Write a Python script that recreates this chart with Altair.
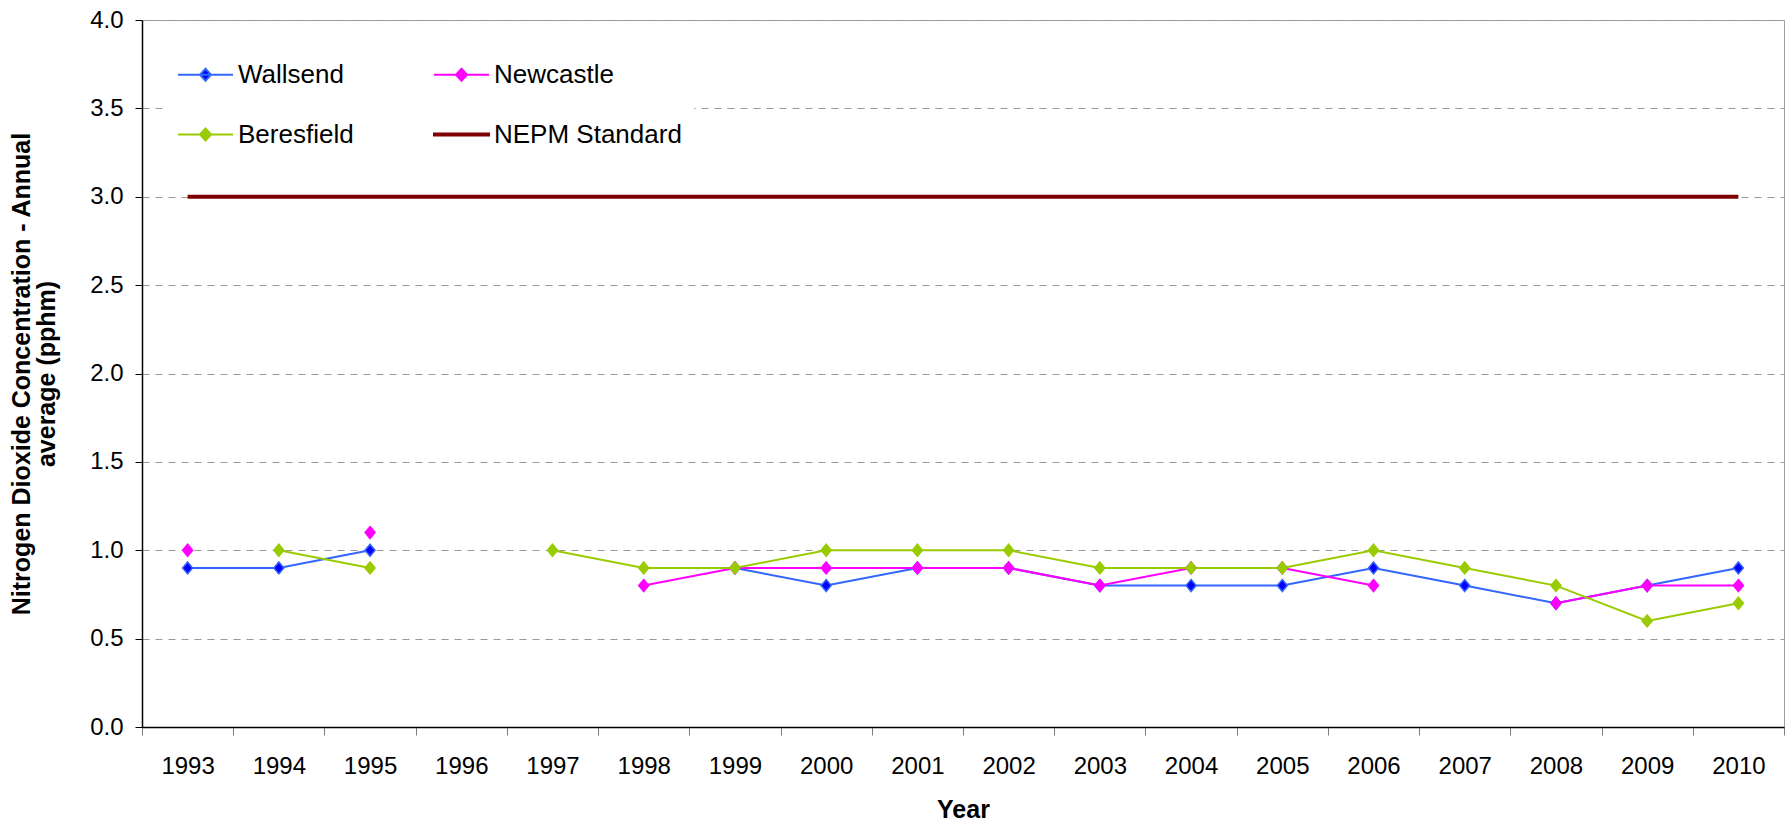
import altair as alt
import pandas as pd

# Annual average NO2 concentrations (pphm) at the three Lower Hunter stations
years = ["1993", "1994", "1995", "1996", "1997", "1998", "1999", "2000", "2001",
         "2002", "2003", "2004", "2005", "2006", "2007", "2008", "2009", "2010"]
wallsend = [0.9, 0.9, 1.0, None, None, None, 0.9, 0.8, 0.9,
            0.9, 0.8, 0.8, 0.8, 0.9, 0.8, 0.7, 0.8, 0.9]
newcastle = [1.0, None, 1.1, None, None, 0.8, 0.9, 0.9, 0.9,
             0.9, 0.8, 0.9, 0.9, 0.8, None, 0.7, 0.8, 0.8]
beresfield = [None, 1.0, 0.9, None, 1.0, 0.9, 0.9, 1.0, 1.0,
              1.0, 0.9, 0.9, 0.9, 1.0, 0.9, 0.8, 0.6, 0.7]
nepm_standard = [3.0, 3.0, 3.0, 3.0, 3.0, 3.0, 3.0, 3.0, 3.0,
                 3.0, 3.0, 3.0, 3.0, 3.0, 3.0, 3.0, 3.0, 3.0]

series_names = ["Wallsend", "Newcastle", "Beresfield", "NEPM Standard"]
line_colors = ["#3366FF", "#FF00FF", "#99CC00", "#800000"]
marker_fills = ["#0000FF", "#FF00FF", "#99CC00", "#800000"]

stations = pd.concat(
    [pd.DataFrame({"year": years, "value": vals, "series": name})
     for name, vals in zip(series_names[:3], [wallsend, newcastle, beresfield])],
    ignore_index=True,
)
standard = pd.DataFrame({"year": years, "value": nepm_standard, "series": series_names[3]})

FONT = "Liberation Sans"
W, H = 1642, 707

x_enc = alt.X(
    "year:N",
    scale=alt.Scale(domain=years, paddingInner=0, paddingOuter=0),
    axis=alt.Axis(
        title="Year", titleFont=FONT, titleFontSize=25, titleFontWeight="bold",
        titleColor="black", titleBaseline="alphabetic", titleY=90,
        labelAngle=0, labelFont=FONT, labelFontSize=24, labelColor="black",
        labelBaseline="alphabetic", labelPadding=38,
        tickBand="extent", tickSize=8, tickColor="#808080", tickWidth=1,
        domainColor="black", domainWidth=1.5, grid=False,
    ),
)
y_enc = alt.Y(
    "value:Q",
    scale=alt.Scale(domain=[0, 4], nice=False),
    axis=alt.Axis(
        title=["Nitrogen Dioxide Concentration - Annual", "average (pphm)"],
        titleFont=FONT, titleFontSize=25, titleFontWeight="bold", titleColor="black",
        titleAngle=-90, titleAlign="center", titleBaseline="middle", titleLineHeight=25,
        titleX=-121, titleY=H / 2,
        values=[0, 0.5, 1, 1.5, 2, 2.5, 3, 3.5, 4], format=".1f",
        labelFont=FONT, labelFontSize=24, labelColor="black", labelPadding=12,
        tickSize=7, tickColor="black", domainColor="black", domainWidth=1.5,
        grid=True, gridColor="#999999", gridDash=[7, 6], gridWidth=1,
    ),
)

# legend glyphs: line with a diamond marker, and a thick bar for the standard
diamond_line = "M-1,0L1,0M0,-0.22L0.2,0L0,0.22L-0.2,0Z"
thick_line = "M-1,-0.035L1,-0.035L1,0.035L-1,0.035Z"


def stroke_scale():
    return alt.Scale(domain=series_names, range=line_colors)


def fill_scale():
    return alt.Scale(domain=series_names, range=marker_fills)


legend = alt.Legend(
    title=None, orient="none", legendX=23, legendY=14, direction="horizontal",
    columns=2, columnPadding=76, rowPadding=18, padding=12, fillColor="white",
    labelFont=FONT, labelFontSize=26, labelColor="black", labelOffset=4,
    labelLimit=400, symbolSize=3025, symbolOpacity=1, symbolStrokeWidth=2,
)

standard_line = alt.Chart(standard).mark_line(strokeWidth=4).encode(
    x=x_enc, y=y_enc, stroke=alt.Stroke("series:N", scale=stroke_scale(), legend=None)
)

station_lines = alt.Chart(stations).mark_line(
    strokeWidth=2, invalid="break-paths-filter-domains"
).encode(x=x_enc, y=y_enc, stroke=alt.Stroke("series:N", scale=stroke_scale(), legend=None))

station_points = alt.Chart(stations).transform_filter(
    "isValid(datum.value)"
).mark_point(
    shape="M0,-1.2L1,0L0,1.2L-1,0Z", size=100, strokeWidth=1.5, opacity=1, fillOpacity=1
).encode(
    x=x_enc,
    y=y_enc,
    fill=alt.Fill("series:N", scale=fill_scale(), legend=None),
    stroke=alt.Stroke("series:N", scale=stroke_scale(), legend=None),
)

# key layer: draws no marks, only carries the legend
key = alt.Chart(standard).transform_filter("false").mark_point(
    size=3025, opacity=1, fillOpacity=1, strokeWidth=2
).encode(
    x=x_enc,
    y=y_enc,
    stroke=alt.Stroke("series:N", scale=stroke_scale(), legend=legend),
    fill=alt.Fill("series:N", scale=fill_scale(), legend=legend),
    shape=alt.Shape("series:N",
                    scale=alt.Scale(domain=series_names,
                                    range=[diamond_line, diamond_line, diamond_line, thick_line]),
                    legend=legend),
)

chart = alt.layer(standard_line, station_lines, station_points, key).resolve_scale(
    stroke="independent", fill="independent", shape="independent"
).resolve_legend(
    stroke="independent", fill="independent", shape="independent"
).properties(
    width=W,
    height=H,
    autosize=alt.AutoSizeParams(type="none"),
    padding={"left": 142, "top": 20, "right": 8, "bottom": 97},
    background="white",
).configure_view(stroke="#A0A0A0", strokeWidth=1)

chart.save("out.html", embed_options={"renderer": "svg", "actions": False})
